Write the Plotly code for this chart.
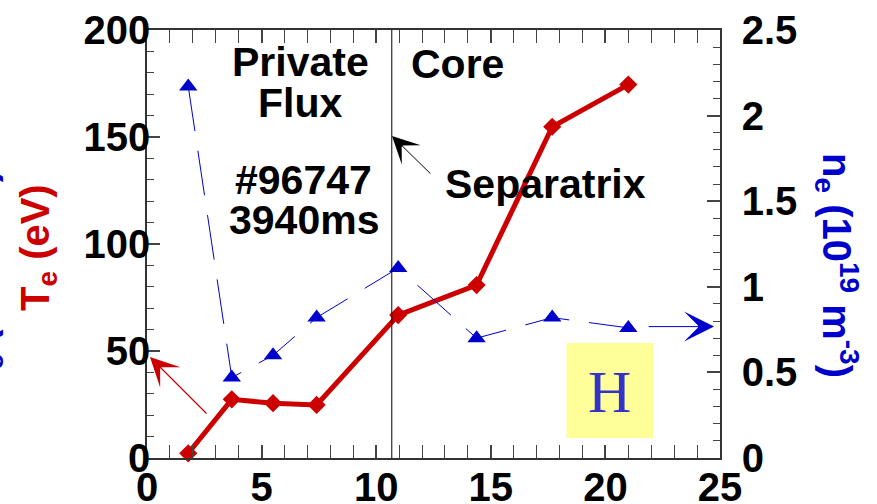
import plotly.graph_objects as go

# ---- data ----
position = [1.8, 3.7, 5.5, 7.4, 10.96, 14.38, 17.68, 21.0]
te_eV = [2.2, 27.4, 25.6, 24.8, 66.8, 80.8, 154.8, 174.5]
ne_1e19 = [2.17, 0.47, 0.60, 0.82, 1.11, 0.70, 0.82, 0.76]
separatrix_x = 10.68
x_ticks = [0, 5, 10, 15, 20, 25]
te_ticks = [0, 50, 100, 150, 200]
ne_ticks = [0, 0.5, 1, 1.5, 2, 2.5]

RED = "#CC0000"
BLUE = "#0000CC"
FONT = "Liberation Sans"

fig = go.Figure()
fig.add_trace(go.Scatter(
    x=position, y=ne_1e19, yaxis="y2", mode="lines+markers",
    line=dict(color=BLUE, width=1, dash="45px,20px"),
    marker=dict(symbol="triangle-up", size=16, color=BLUE),
    showlegend=False, cliponaxis=False))
fig.add_trace(go.Scatter(
    x=position, y=te_eV, mode="lines+markers",
    line=dict(color=RED, width=5),
    marker=dict(symbol="diamond", size=14, color=RED),
    showlegend=False, cliponaxis=False))

axis_common = dict(
    showline=True, linecolor="#333", linewidth=1.5, ticks="inside", automargin=False,
    tickcolor="#444", tickwidth=1.5, ticklen=13, showgrid=False, zeroline=False,
    tickfont=dict(family=FONT, size=40, color="black", weight="bold"),
)

fig.update_layout(
    width=877, height=504,
    margin=dict(l=147, r=157, t=30, b=46),
    paper_bgcolor="white", plot_bgcolor="white",
    xaxis=dict(range=[0, 25], tickvals=x_ticks, mirror="allticks", ticklabelstandoff=-7,
               minor=dict(dtick=1, ticks="inside", ticklen=7, tickcolor="#444", tickwidth=1.2),
               **axis_common),
    yaxis=dict(range=[0, 200], tickvals=te_ticks, ticklabelstandoff=-13,
               minor=dict(dtick=10, ticks="inside", ticklen=7, tickcolor="#444", tickwidth=1.2),
               **axis_common),
    yaxis2=dict(range=[0, 2.5], tickvals=ne_ticks, overlaying="y", side="right",
                ticklabelstandoff=12,
                minor=dict(dtick=0.1, ticks="inside", ticklen=7, tickcolor="#444", tickwidth=1.2),
                **axis_common),
)

# separatrix line
fig.add_shape(type="line", x0=separatrix_x, x1=separatrix_x, y0=0, y1=1,
              xref="x", yref="paper", line=dict(color="black", width=1))

# H box
fig.add_shape(type="rect", x0=18.3, x1=22.08, y0=9.3, y1=53.7, xref="x", yref="y",
              fillcolor="#FFFF99", line=dict(width=0), layer="below")

def label(text, x, y, size=41, color="black"):
    fig.add_annotation(x=x, y=y, xref="x", yref="y", text=text, showarrow=False,
                       font=dict(family=FONT, size=size, color=color, weight="bold"),
                       xanchor="center", yanchor="middle")

label("Private", 6.68, 185)
label("Flux", 6.68, 166)
label("#96747", 6.81, 130)
label("3940ms", 6.85, 111)
label("Core", 13.53, 184)
label("Separatrix", 17.37, 128)

fig.add_annotation(x=20.2, y=31, xref="x", yref="y", text="H", showarrow=False,
                   font=dict(family="Liberation Serif", size=60, color="#3333CC"))

# arrows
def arrow(x_head, y_head, x_tail, y_tail, color, size=4.5, width=1):
    fig.add_annotation(x=x_head, y=y_head, ax=x_tail, ay=y_tail, xref="x", yref="y",
                       axref="x", ayref="y", text="", showarrow=True, arrowhead=3,
                       arrowsize=size, arrowwidth=width, arrowcolor=color)

arrow(10.69, 150.5, 12.43, 132.2, "black")
arrow(0.13, 47.2, 2.66, 20.1, RED, 4.0, 1.2)
arrow(24.74, 61.4, 21.82, 61.4, BLUE, 5.0)

# axis titles (placed in pixels, converted to paper coordinates)
L, R, T, B = 147, 157, 30, 46
pw, ph = 877 - L - R, 504 - T - B

def px_ann(text, px, py, angle, color):
    fig.add_annotation(x=(px - L) / pw, y=1 - (py - T) / ph, xref="paper", yref="paper",
                       xanchor="center", yanchor="middle",
                       text=text, showarrow=False, textangle=angle,
                       font=dict(family=FONT, size=40, color=color, weight="bold"))

NE_TITLE = "n<sub>e</sub> (10<sup>19</sup> m<sup>-3</sup>)"
px_ann(NE_TITLE, -19, 282, -90, BLUE)      # mostly cut off at the left edge
px_ann("T<sub>e</sub> (eV)", 38, 248, -90, RED)
px_ann(NE_TITLE, 837, 265, 90, BLUE)

fig.write_html("out.html")
